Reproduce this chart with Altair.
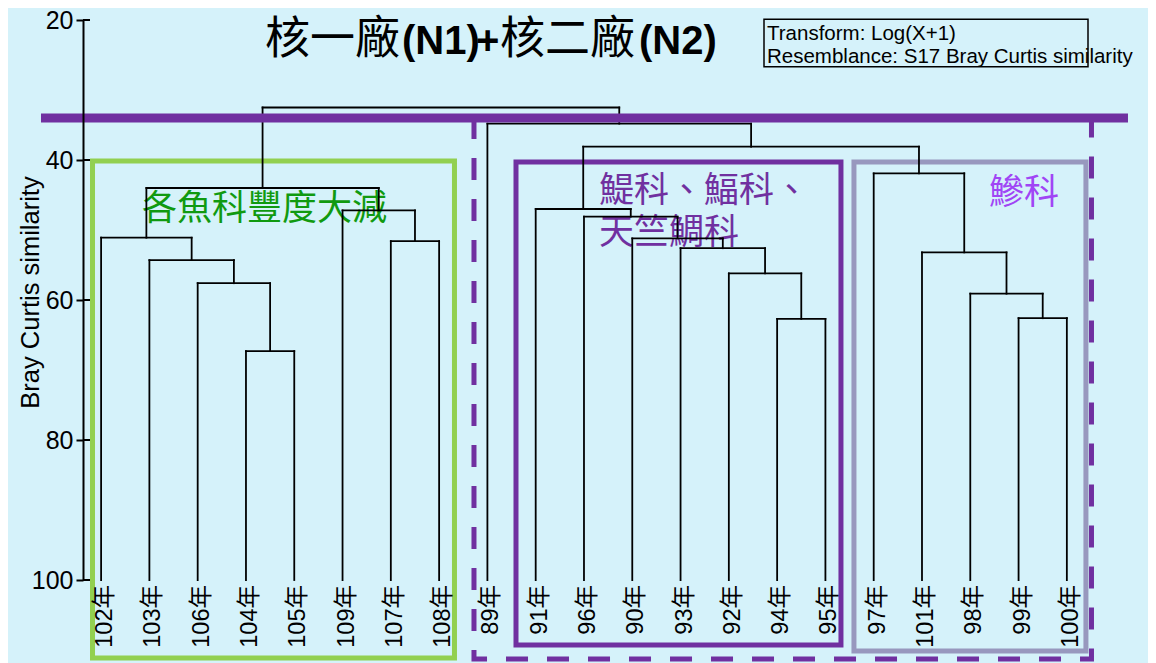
import altair as alt
import pandas as pd

# ---------------- data ----------------
leaves = ["102年", "103年", "106年", "104年", "105年", "109年", "107年", "108年",
          "89年", "91年", "96年", "90年", "93年", "92年", "94年", "95年",
          "97年", "101年", "98年", "99年", "100年"]

merge_left = ["104年", "106年", "103年", "102年", "107年", "109年", "m3",
              "94年", "92年", "93年", "90年", "96年", "91年",
              "99年", "98年", "101年", "97年", "m12", "89年", "m6"]
merge_right = ["105年", "m0", "m1", "m2", "108年", "m4", "m5",
               "95年", "m7", "m8", "m9", "m10", "m11",
               "100年", "m13", "m14", "m15", "m16", "m17", "m18"]
merge_sim = [67.3, 57.6, 54.3, 51.1, 51.6, 47.2, 44.0,
             62.7, 56.2, 52.6, 51.2, 48.1, 47.0,
             62.6, 59.1, 53.2, 41.9, 38.1, 34.8, 32.5]

ytick_values = [20, 40, 60, 80, 100]
cut_level = [34.0]

group_labels = ["各魚科豐度大減", "鯷科、鰏科、", "天竺鯛科", "鰺科"]
title_parts = ["核一廠", "(N1)", "+", "核二廠", "(N2)"]
info_lines = ["Transform: Log(X+1)", "Resemblance: S17 Bray Curtis similarity"]

# ---------------- dendrogram segments from the merge table ----------------
pos = {name: (float(i), 100.0) for i, name in enumerate(leaves)}
segs = []
for k, (a, b, h) in enumerate(zip(merge_left, merge_right, merge_sim)):
    xa, ya = pos[a]
    xb, yb = pos[b]
    segs.append({"x": xa, "x2": xa, "y": ya, "y2": h})
    segs.append({"x": xb, "x2": xb, "y": yb, "y2": h})
    segs.append({"x": xa, "x2": xb, "y": h, "y2": h})
    pos[f"m{k}"] = ((xa + xb) / 2.0, h)
seg_df = pd.DataFrame(segs)

leaf_df = pd.DataFrame({"idx": list(range(len(leaves))), "name": leaves,
                        "base": [100.0] * len(leaves)})

xs = alt.Scale(domain=[-0.375, 20.5], nice=False, zero=False)
ys = alt.Scale(domain=[20, 100], reverse=True, nice=False, zero=False)

LAT = 'Liberation Sans, Arial, "Noto Sans CJK TC", sans-serif'
CJK = '"Noto Sans CJK TC", "Liberation Sans", sans-serif'

yaxis = alt.Axis(
    values=ytick_values, grid=False, zindex=1,
    title="Bray Curtis similarity", titleFont=LAT, titleFontSize=25.5,
    titleFontWeight="normal", titleColor="black", titleAngle=270,
    titleX=-53, titleY=272, titleAlign="center", titleBaseline="middle",
    labelFont=LAT, labelFontSize=25, labelColor="black", labelPadding=3,
    labelOverlap=False, labelFlush=False,
    tickSize=7, tickWidth=2, tickColor="black",
    domainColor="black", domainWidth=2,
)

# ---------------- group boxes (annotation, in data units) ----------------
boxes = pd.DataFrame({
    "x0": [-0.178, 8.592, 15.591],
    "x1": [7.318, 15.322, 20.395],
    "y0": [40.14, 40.29, 40.29],
    "y1": [111.14, 109.29, 110.14],
    "col": ["#92D050", "#7030A0", "#9898BE"],
})
box_layer = alt.Chart(boxes).mark_rect(fillOpacity=0, strokeWidth=5).encode(
    x=alt.X("x0:Q", scale=xs, axis=None), x2="x1:Q",
    y=alt.Y("y0:Q", scale=ys, axis=yaxis), y2="y1:Q",
    stroke=alt.Stroke("col:N", scale=None),
)

dashed = pd.DataFrame({"x0": [7.722], "x1": [20.51], "y0": cut_level, "y1": [111.29]})
dashed_layer = alt.Chart(dashed).mark_rect(
    fillOpacity=0, stroke="#7030A0", strokeWidth=5, strokeDash=[22, 19]
).encode(
    x=alt.X("x0:Q", scale=xs, axis=None), x2="x1:Q",
    y=alt.Y("y0:Q", scale=ys), y2="y1:Q",
)

# ---------------- group labels ----------------
def label(text, x, y, color, size=35):
    return alt.Chart(pd.DataFrame({"t": [text]})).mark_text(
        font=CJK, fontSize=size, color=color, align="left", baseline="middle"
    ).encode(text="t:N", x=alt.value(x), y=alt.value(y))

lab_layers = [
    label(group_labels[0], 59, 189, "#109A10"),
    label(group_labels[1], 516, 171, "#7030A0"),
    label(group_labels[2], 516, 213, "#7030A0"),
    label(group_labels[3], 906, 173, "#A045F5"),
]

# ---------------- dendrogram ----------------
dendro = alt.Chart(seg_df).mark_rule(color="black", strokeWidth=1.8, strokeCap="square").encode(
    x=alt.X("x:Q", scale=xs, axis=None), x2="x2:Q",
    y=alt.Y("y:Q", scale=ys), y2="y2:Q",
)

inner_ticks = alt.Chart(pd.DataFrame({"v": ytick_values})).mark_rule(
    color="black", strokeWidth=2
).encode(y=alt.Y("v:Q", scale=ys), x=alt.value(0), x2=alt.value(7))

cut_df = pd.DataFrame({"x0": [-1.245], "x1": [21.266], "y": cut_level})
cut_layer = alt.Chart(cut_df).mark_rule(color="#7030A0", strokeWidth=9).encode(
    x=alt.X("x0:Q", scale=xs, axis=None), x2="x1:Q",
    y=alt.Y("y:Q", scale=ys),
)

leaf_text = alt.Chart(leaf_df).mark_text(
    font=LAT, fontSize=23.5, color="black", angle=270, align="right",
    baseline="middle", dx=-5, dy=4
).encode(
    x=alt.X("idx:Q", scale=xs, axis=None),
    y=alt.Y("base:Q", scale=ys),
    text="name:N",
)

# ---------------- title ----------------
def tpart(text, x, font, size, weight):
    return alt.Chart(pd.DataFrame({"t": [text]})).mark_text(
        font=font, fontSize=size, fontWeight=weight, color="black",
        align="left", baseline="alphabetic"
    ).encode(text="t:N", x=alt.value(x), y=alt.value(33.5))

title_layers = [
    tpart(title_parts[0], 182, CJK, 45, "normal"),
    tpart(title_parts[1], 319, LAT, 40, "bold"),
    tpart(title_parts[2], 393, LAT, 40, "bold"),
    tpart(title_parts[3], 417, CJK, 45, "normal"),
    tpart(title_parts[4], 556, LAT, 40, "bold"),
]

# ---------------- info box ----------------
info_box = alt.Chart(pd.DataFrame({"a": [0]})).mark_rect(
    fillOpacity=0, stroke="black", strokeWidth=1.5
).encode(x=alt.value(681), x2=alt.value(1005), y=alt.value(-0.7), y2=alt.value(46.7))

info_text = [
    alt.Chart(pd.DataFrame({"t": [info_lines[0]]})).mark_text(
        font=LAT, fontSize=20.5, color="black", align="left", baseline="middle"
    ).encode(text="t:N", x=alt.value(684), y=alt.value(13.5)),
    alt.Chart(pd.DataFrame({"t": [info_lines[1]]})).mark_text(
        font=LAT, fontSize=20.5, color="black", align="left", baseline="middle"
    ).encode(text="t:N", x=alt.value(684), y=alt.value(36.5)),
]

chart = alt.layer(
    box_layer, dashed_layer, *lab_layers, dendro, cut_layer, inner_ticks,
    leaf_text, *title_layers, info_box, *info_text
).properties(
    width=1008, height=560,
    padding={"left": 75, "top": 12, "right": 57, "bottom": 83},
    autosize=alt.AutoSizeParams(type="none"),
).configure(background="#D5F2FA").configure_view(stroke=None)

chart.save("out.html", embed_options={"renderer": "svg", "actions": False})
